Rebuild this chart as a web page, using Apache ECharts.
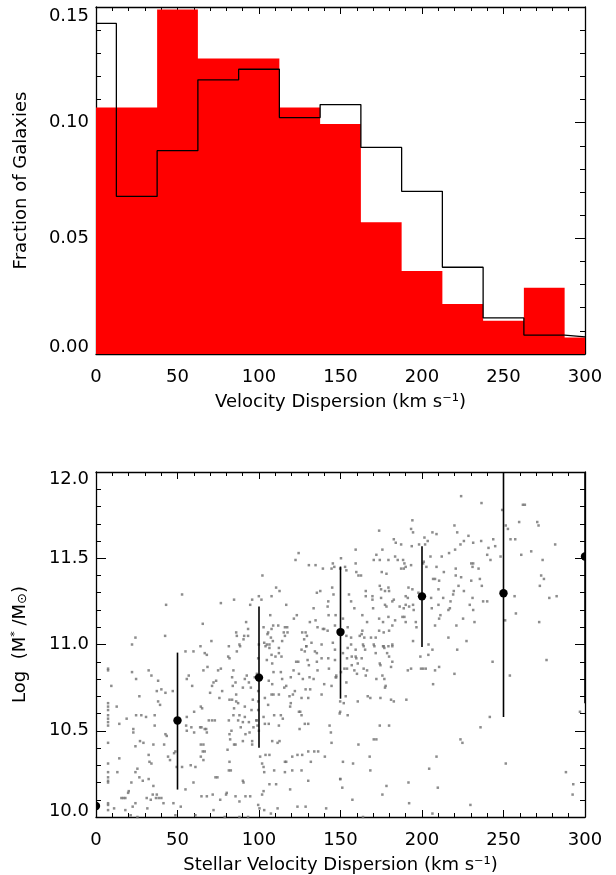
<!DOCTYPE html>
<html><head><meta charset="utf-8">
<script src="https://cdn.jsdelivr.net/npm/echarts@6/dist/echarts.min.js"></script>
<style>html,body{margin:0;padding:0;background:#fff}#c{width:616px;height:875px}</style>
</head><body><div id="c"></div>
<script>
// ---- Top panel: histograms (fraction of galaxies per velocity-dispersion bin)
const binEdges = [0, 12.5, 37.5, 62.5, 87.5, 112.5, 137.5, 162.5, 187.5, 212.5, 237.5, 262.5, 287.5, 300];
const redFrac = [0.1066, 0.1066, 0.1489, 0.1277, 0.1277, 0.1066, 0.0994, 0.0570, 0.0359, 0.0216, 0.0144, 0.0286, 0.0071];
const blackFrac = [0.1429, 0.0681, 0.0879, 0.1185, 0.1231, 0.1022, 0.1078, 0.0893, 0.0703, 0.0375, 0.0156, 0.0082, 0.0074];
const topYTicks = [0.00, 0.05, 0.10, 0.15];

// ---- Bottom panel: binned means with error bars
const meanX = [0, 50, 100, 150, 200, 250, 300];
const meanY = [10.064, 10.559, 10.808, 11.072, 11.279, 11.297, 11.51];
const errLo = [9.58, 10.159, 10.402, 10.686, 10.986, 10.58, 10.66];
const errHi = [10.54, 10.953, 11.221, 11.452, 11.569, 12.3, 12.36];
const botYTicks = [10.0, 10.5, 11.0, 11.5, 12.0];

// individual galaxies [sigma, log M*/Msun]
const galaxies = [
[124.3,11.53],[122.4,11.49],[130.6,11.46],[134.7,11.46],[139.2,11.44],[145.3,11.47],[146.2,11.45],[144.5,11.44],[149.8,11.44],
[102.1,11.40],[110.5,11.33],[112.6,11.31],[144.9,11.33],[145.7,11.29],[135.5,11.30],[137.6,11.31],[52.8,11.29],[43.0,11.23],
[76.6,11.24],[84.7,11.26],[95.8,11.26],[94.6,11.23],[99.9,11.28],[101.5,11.26],[107.7,11.28],[116.7,11.23],[133.5,11.21],
[142.5,11.25],[142.1,11.22],[65.5,11.12],[92.1,11.13],[93.3,11.09],[86.0,11.07],[86.4,11.05],[90.9,11.05],[93.3,11.05],
[90.5,11.03],[88.0,11.00],[24.2,11.04],[42.4,11.05],[22.1,11.00],[64.1,10.99],[70.8,11.02],[81.5,10.99],[106.9,11.17],
[102.8,11.10],[108.7,11.11],[111.8,11.11],[107.7,11.09],[115.9,11.10],[117.3,11.10],[105.2,11.06],[105.6,11.07],[107.3,11.04],
[108.5,11.02],[115.2,11.07],[117.5,11.07],[115.9,11.05],[114.2,11.02],[103.2,11.01],[104.8,11.00],[106.4,11.00],[121.4,11.15],
[123.2,11.17],[126.5,11.07],[128.6,11.07],[129.4,11.05],[132.2,11.01],[131.2,11.13],[134.7,11.14],[135.9,11.10],[139.2,11.09],
[140.0,11.09],[142.1,11.08],[142.7,11.17],[147.0,11.17],[146.6,11.11],[145.3,11.01],[138.4,11.00],[127.7,11.03],[129.0,10.99],
[224.0,11.86],[236.5,11.82],[249.2,11.78],[261.9,11.81],[263.1,11.81],[259.6,11.71],[270.7,11.71],[271.5,11.69],[194.1,11.72],
[193.3,11.67],[194.5,11.65],[173.7,11.66],[219.9,11.69],[221.6,11.65],[228.5,11.63],[251.4,11.69],[252.7,11.67],[254.3,11.61],
[257.2,11.61],[206.4,11.65],[208.9,11.64],[201.5,11.62],[203.5,11.60],[201.9,11.58],[198.2,11.58],[193.7,11.57],[182.7,11.61],
[183.9,11.59],[187.2,11.58],[175.7,11.55],[172.0,11.52],[159.3,11.55],[150.3,11.50],[223.6,11.58],[225.7,11.60],[231.4,11.59],
[236.3,11.60],[243.7,11.61],[244.9,11.57],[240.8,11.56],[240.0,11.52],[242.0,11.49],[248.2,11.51],[220.3,11.55],[216.6,11.53],
[212.1,11.51],[205.2,11.51],[201.1,11.48],[200.7,11.47],[202.7,11.45],[208.9,11.45],[267.0,11.54],[260.9,11.52],[274.0,11.49],
[281.7,11.58],[170.4,11.49],[174.1,11.49],[179.4,11.49],[183.5,11.51],[185.1,11.49],[188.4,11.49],[189.2,11.47],[159.3,11.47],
[152.8,11.45],[153.6,11.43],[187.2,11.44],[188.8,11.44],[190.0,11.45],[193.3,11.46],[220.7,11.44],[230.2,11.47],[231.4,11.47],
[231.0,11.45],[234.7,11.44],[213.4,11.42],[175.3,11.42],[178.2,11.41],[159.7,11.42],[161.0,11.40],[162.6,11.40],[273.1,11.40],
[274.8,11.38],[272.3,11.34],[206.8,11.38],[208.0,11.38],[210.5,11.37],[220.7,11.40],[224.0,11.39],[230.2,11.37],[235.5,11.38],
[236.7,11.34],[174.1,11.34],[174.9,11.32],[177.3,11.31],[179.4,11.33],[179.8,11.31],[191.7,11.33],[194.1,11.32],[210.1,11.32],
[219.5,11.31],[222.4,11.34],[225.7,11.31],[219.1,11.29],[165.5,11.31],[165.5,11.28],[155.2,11.29],[169.6,11.28],[169.6,11.26],
[174.9,11.27],[182.7,11.26],[181.8,11.25],[190.0,11.28],[191.3,11.27],[197.8,11.30],[205.6,11.27],[213.0,11.27],[217.5,11.25],
[231.0,11.27],[229.3,11.23],[231.4,11.20],[237.5,11.25],[240.0,11.25],[256.8,11.28],[278.1,11.27],[282.6,11.28],[156.5,11.25],
[158.5,11.21],[170.0,11.21],[177.3,11.23],[178.2,11.22],[186.3,11.22],[188.8,11.21],[190.0,11.23],[192.1,11.22],[194.5,11.23],
[194.9,11.20],[206.0,11.21],[210.1,11.23],[216.2,11.20],[217.1,11.21],[211.3,11.17],[210.5,11.15],[225.2,11.15],[232.2,11.13],
[257.6,11.18],[251.0,11.14],[271.9,11.13],[163.4,11.17],[151.5,11.15],[166.3,11.13],[173.7,11.15],[176.1,11.13],[179.4,11.16],
[181.8,11.11],[188.0,11.16],[189.2,11.16],[183.5,11.14],[190.0,11.13],[196.2,11.13],[196.6,11.10],[154.4,11.10],[163.4,11.08],
[163.0,11.06],[173.7,11.08],[176.5,11.07],[179.8,11.08],[208.0,11.11],[221.1,11.11],[161.8,11.05],[164.6,11.04],[168.7,11.04],
[171.6,11.04],[153.6,11.05],[156.5,11.04],[216.2,11.04],[227.3,11.02],[164.2,10.99],[170.8,10.99],[176.5,10.99],[179.4,10.99],
[181.8,10.99],[194.5,11.02],[204.0,11.00],[156.5,11.00],
[7.4,10.86],[7.4,10.85],[9.4,10.76],[7.4,10.66],[7.4,10.64],[7.4,10.62],[7.4,10.59],[7.4,10.57],[7.4,10.55],[7.4,10.53],
[7.4,10.43],[7.4,10.31],[7.4,10.26],[7.4,10.23],[7.4,10.21],[7.4,10.20],[7.4,10.08],[7.4,10.07],[7.4,10.04],[12.7,10.64],
[14.3,10.54],[14.3,10.34],[13.1,10.26],[11.1,10.05],[18.8,10.57],[22.1,10.84],[24.6,10.80],[26.6,10.70],[24.6,10.59],
[22.9,10.51],[22.9,10.49],[24.2,10.41],[27.0,10.44],[29.1,10.43],[27.8,10.59],[30.7,10.58],[32.3,10.85],[34.0,10.82],
[38.1,10.79],[40.1,10.74],[37.3,10.73],[38.1,10.67],[39.3,10.65],[42.6,10.72],[47.1,10.73],[36.0,10.59],[36.0,10.53],
[35.2,10.42],[32.3,10.36],[32.8,10.32],[34.0,10.31],[42.6,10.48],[43.4,10.47],[41.8,10.42],[44.2,10.35],[45.4,10.33],
[47.9,10.37],[48.7,10.38],[49.5,10.29],[25.4,10.28],[24.2,10.26],[21.7,10.20],[20.1,10.15],[19.7,10.14],[15.6,10.11],
[16.8,10.11],[18.0,10.11],[24.2,10.08],[22.5,10.06],[18.0,10.04],[21.3,10.01],[25.4,10.00],[26.6,10.23],[28.7,10.21],
[32.3,10.22],[35.2,10.18],[34.8,10.13],[37.3,10.13],[36.8,10.11],[38.5,10.11],[33.6,10.10],[31.1,10.11],[31.5,10.05],
[40.1,10.11],[41.4,10.08],[47.5,10.08],[48.7,10.01],[52.0,10.06],[52.8,10.29],[55.7,10.80],[56.9,10.82],[54.9,10.96],
[59.8,10.96],[59.0,10.76],[55.7,10.58],[55.3,10.53],[55.7,10.50],[58.5,10.52],[60.2,10.49],[60.2,10.61],[58.1,10.30],
[61.0,10.29],[59.8,10.20],[54.9,10.16],[61.0,10.01],[64.3,10.64],[65.1,10.63],[63.9,10.52],[64.7,10.52],[66.7,10.51],
[67.6,10.51],[68.0,10.49],[64.3,10.42],[65.9,10.42],[65.5,10.38],[66.7,10.38],[64.3,10.35],[65.9,10.33],[64.7,10.12],
[68.0,10.12],[66.7,10.95],[68.0,10.94],[68.4,10.87],[65.9,10.85],[71.2,10.76],[72.1,10.78],[73.7,10.79],[74.9,10.85],
[76.6,10.86],[70.0,10.72],[75.7,10.69],[77.4,10.73],[69.2,10.56],[71.2,10.56],[72.9,10.56],[71.6,10.13],[72.1,10.04],
[73.3,10.23],[74.5,10.23],[76.2,10.10],[80.2,10.14],[81.5,10.27],[82.7,10.27],[81.9,10.32],[80.7,10.39],[81.9,10.48],
[82.3,10.45],[83.1,10.50],[81.5,10.56],[84.3,10.59],[84.7,10.63],[81.9,10.68],[83.5,10.68],[81.1,10.93],[81.9,10.92],
[84.3,10.85],[83.5,10.81],[85.6,10.78],[83.9,10.76],[86.0,10.71],[86.0,10.67],[87.2,10.66],[88.0,10.59],[84.7,10.42],
[85.6,10.42],[90.1,10.21],[90.5,10.20],[88.8,10.52],[87.2,10.56],[90.1,10.44],[91.7,10.48],[94.2,10.49],[95.8,10.44],
[95.8,10.42],[96.6,10.52],[98.3,10.56],[99.1,10.53],[99.9,10.50],[98.7,10.56],[99.5,10.92],[98.7,10.83],[97.4,10.81],
[92.5,10.82],[93.8,10.78],[91.3,10.80],[90.1,10.75],[95.0,10.75],[99.5,10.73],[96.2,10.68],[99.5,10.67],[99.5,10.62],
[95.4,10.62],[91.3,10.64],[91.3,10.58],[88.4,10.99],[86.4,10.96],[99.9,11.00],[104.0,10.99],[106.4,10.98],[104.8,10.91],
[107.7,10.94],[110.1,10.93],[108.1,10.89],[112.2,10.98],[112.2,10.95],[113.8,10.93],[108.9,10.84],[113.4,10.84],[114.2,10.80],
[106.0,10.79],[108.1,10.77],[115.5,10.75],[116.7,10.76],[119.5,10.81],[121.2,10.85],[122.8,10.90],[124.1,10.90],[126.1,10.97],
[128.1,10.96],[134.3,10.96],[135.5,10.95],[129.0,10.99],[129.8,10.91],[130.6,10.88],[135.5,10.90],[138.4,10.92],[142.5,10.92],
[146.6,10.97],[146.6,10.91],[147.4,10.82],[147.4,10.81],[142.9,10.86],[135.9,10.85],[131.0,10.81],[126.9,10.80],[124.5,10.83],
[133.5,10.80],[131.4,10.74],[128.6,10.74],[122.0,10.73],[120.8,10.71],[118.7,10.70],[119.5,10.66],[119.1,10.64],[112.2,10.71],
[107.7,10.71],[108.9,10.71],[103.6,10.69],[105.6,10.65],[102.8,10.58],[103.6,10.54],[106.0,10.54],[109.3,10.59],[113.4,10.59],
[114.6,10.57],[112.2,10.53],[111.4,10.43],[112.6,10.44],[104.0,10.36],[106.4,10.36],[100.7,10.35],[101.9,10.31],[102.8,10.29],
[103.2,10.26],[102.8,10.15],[109.3,10.27],[115.9,10.32],[116.7,10.32],[120.4,10.35],[123.6,10.36],[126.5,10.36],[130.2,10.38],
[133.9,10.38],[136.3,10.38],[140.4,10.35],[143.3,10.53],[144.1,10.49],[144.5,10.43],[126.1,10.27],[120.4,10.27],[115.9,10.26],
[110.5,10.19],[106.4,10.19],[101.9,10.13],[99.5,10.07],[100.3,10.05],[103.2,10.04],[107.3,10.02],[111.4,10.05],[119.1,10.16],
[123.6,10.06],[128.6,10.06],[141.2,10.05],[130.2,10.21],[131.8,10.32],[149.8,10.22],[149.8,10.67],[149.8,10.61],[126.1,10.69],
[130.2,10.69],[124.5,10.61],[125.3,10.61],[126.1,10.59],[130.2,10.54],[128.1,10.54],[124.9,10.51],[138.4,10.71],[140.0,10.77],
[144.5,10.76],[147.0,10.81],[108.1,10.44],[93.8,10.55],[90.1,10.55],[91.7,10.12],[94.6,10.12],[85.6,10.12],[79.8,10.13],
[88.0,10.09],[93.3,10.00],[79.0,10.00],[88.0,10.00],
[154.4,10.98],[151.5,10.95],[154.0,10.92],[156.9,10.93],[159.3,10.93],[159.7,10.92],[159.3,10.97],[163.8,11.00],[165.1,10.97],
[163.0,10.92],[160.6,10.89],[156.9,10.88],[152.4,10.86],[154.0,10.86],[158.5,10.85],[160.1,10.83],[164.2,10.86],[166.3,10.85],
[165.5,10.82],[150.3,10.84],[153.6,10.78],[170.4,11.00],[171.6,10.95],[176.1,10.99],[176.9,10.98],[181.8,11.00],[178.6,10.95],
[179.8,10.93],[174.1,10.89],[174.5,10.88],[181.8,10.90],[181.0,10.87],[175.7,10.82],[172.0,10.80],[176.9,10.80],[177.7,10.76],
[177.3,10.75],[166.7,10.70],[168.3,10.69],[153.2,10.70],[152.0,10.66],[160.6,10.67],[174.5,10.69],[181.0,10.68],[182.7,10.67],
[190.4,10.68],[149.5,10.60],[154.4,10.59],[174.1,10.53],[179.8,10.53],[170.4,10.45],[172.0,10.45],[161.0,10.42],[167.9,10.35],
[151.5,10.32],[157.7,10.31],[168.3,10.27],[149.9,10.22],[151.1,10.17],[157.3,10.10],[175.7,10.13],[178.2,10.18],[191.7,10.20],
[192.1,10.08],[163.8,10.00],[206.4,10.02],[229.7,10.07],[204.4,10.28],[209.7,10.17],[208.9,10.35],[223.6,10.45],[224.8,10.43],
[235.9,10.52],[241.6,10.58],[251.4,10.31],[253.9,10.82],[243.3,10.90],[276.4,10.91],[288.3,10.26],[292.8,10.19],[292.4,10.13],
[296.9,10.61],[191.3,10.85],[193.3,10.86],[199.0,10.93],[199.4,10.86],[200.7,10.86],[202.3,10.86],[203.9,10.94],[206.4,10.97],
[210.5,10.87],[208.0,10.85],[206.8,10.77],[219.9,10.83],[221.6,10.97]
];

// ---- build step-histogram points from the bin table
function stepData(vals) {
  const d = vals.map((v, i) => [binEdges[i], v]);
  d.push([binEdges[binEdges.length - 1], vals[vals.length - 1]]);
  return d;
}

const FONT = 'DejaVu Sans';
const FS = 18;
const txt = { color: '#000', fontFamily: FONT, fontSize: FS };

function xAxisDef(gridIndex, name, top) {
  return {
    type: 'value', gridIndex, min: 0, max: 300, interval: 50,
    position: top ? 'top' : 'bottom',
    name: top ? '' : name, nameLocation: 'middle', nameGap: 39,
    nameTextStyle: Object.assign({}, txt),
    axisLine: { show: true, onZero: false, lineStyle: { color: '#000', width: 1.3 } },
    axisTick: { show: true, inside: true, length: 7, lineStyle: { color: '#000', width: 1 } },
    minorTick: { show: true, splitNumber: 5, length: 4, lineStyle: { color: '#000', width: 1 } },
    axisLabel: top ? { show: false } : Object.assign({ show: true, margin: 14, formatter: v => String(v) }, txt),
    splitLine: { show: false }, minorSplitLine: { show: false }
  };
}
function yAxisDef(gridIndex, min, max, interval, digits, right, name, shiftTop, shiftBot) {
  return {
    type: 'value', gridIndex, min, max, interval,
    position: right ? 'right' : 'left',
    name: right ? '' : name, nameLocation: 'middle', nameGap: 66,
    nameTextStyle: Object.assign({}, txt),
    axisLine: { show: true, onZero: false, lineStyle: { color: '#000', width: 1.3 } },
    axisTick: { show: true, inside: true, length: 10, lineStyle: { color: '#000', width: 1 } },
    minorTick: { show: true, splitNumber: 5, length: 5, lineStyle: { color: '#000', width: 1 } },
    axisLabel: right ? { show: false } : Object.assign({
      show: true, margin: 7,
      formatter: function (v) {
        const s = Number(v).toFixed(digits);
        if (Math.abs(v - max) < 1e-9) return '{t|' + s + '}';
        if (Math.abs(v - min) < 1e-9) return '{b|' + s + '}';
        return s;
      },
      rich: {
        t: Object.assign({ padding: [shiftTop * 2, 0, 0, 0] }, txt),
        b: Object.assign({ padding: [0, 0, shiftBot * 2, 0] }, txt)
      }
    }, txt),
    splitLine: { show: false }, minorSplitLine: { show: false }
  };
}

const chart = echarts.init(document.getElementById('c'), null, { renderer: 'canvas' });
chart.setOption({
  animation: false,
  backgroundColor: '#fff',
  grid: [
    { left: 96, right: 31, top: 7, height: 347 },
    { left: 96, right: 31, top: 472, height: 345 }
  ],
  xAxis: [
    xAxisDef(0, 'Velocity Dispersion (km s\u207B\u00B9)', false),
    xAxisDef(0, '', true),
    xAxisDef(1, 'Stellar Velocity Dispersion (km s\u207B\u00B9)', false),
    xAxisDef(1, '', true)
  ],
  yAxis: [
    yAxisDef(0, topYTicks[0], topYTicks[topYTicks.length - 1], 0.05, 2, false, 'Fraction of Galaxies', 9, 7),
    yAxisDef(0, topYTicks[0], topYTicks[topYTicks.length - 1], 0.05, 2, true, '', 0, 0),
    Object.assign(yAxisDef(1, botYTicks[0], botYTicks[botYTicks.length - 1], 0.5, 1, false, '{a|Log  (M}{s|*}{a| /M}{o|\u2299}{a|)}', 7, 6), {
      nameTextStyle: Object.assign({}, txt, {
        rich: {
          a: Object.assign({}, txt),
          s: { color: '#000', fontFamily: FONT, fontSize: 11, padding: [0, 0, 9, 0] },
          o: { color: '#000', fontFamily: FONT, fontSize: 13, padding: [6, 0, 0, 0] }
        }
      })
    }),
    yAxisDef(1, botYTicks[0], botYTicks[botYTicks.length - 1], 0.5, 1, true, '', 0, 0)
  ],
  series: [
    {
      type: 'line', xAxisIndex: 0, yAxisIndex: 0, step: 'end',
      data: stepData(redFrac), symbol: 'none',
      lineStyle: { width: 0, color: '#ff0000' },
      areaStyle: { color: '#ff0000', opacity: 1 },
      z: 1
    },
    {
      type: 'line', xAxisIndex: 0, yAxisIndex: 0, step: 'end',
      data: stepData(blackFrac), symbol: 'none',
      lineStyle: { width: 1.3, color: '#000' },
      z: 3
    },
    {
      type: 'scatter', xAxisIndex: 2, yAxisIndex: 2,
      data: galaxies, symbol: 'rect', symbolSize: 2.5,
      itemStyle: { color: '#707070' },
      z: 2
    },
    {
      type: 'custom', xAxisIndex: 2, yAxisIndex: 2, clip: true,
      data: meanX.map((x, i) => [x, meanY[i], errLo[i], errHi[i]]),
      encode: { x: 0, y: 1 },
      renderItem: function (params, api) {
        const p = api.coord([api.value(0), api.value(1)]);
        const lo = api.coord([api.value(0), api.value(2)]);
        const hi = api.coord([api.value(0), api.value(3)]);
        return {
          type: 'group',
          children: [
            { type: 'line', shape: { x1: lo[0], y1: lo[1], x2: hi[0], y2: hi[1] }, style: { stroke: '#000', lineWidth: 1.6 } },
            { type: 'circle', shape: { cx: p[0], cy: p[1], r: 4.2 }, style: { fill: '#000' } }
          ]
        };
      },
      z: 4
    }
  ]
});
</script>
</body></html>
